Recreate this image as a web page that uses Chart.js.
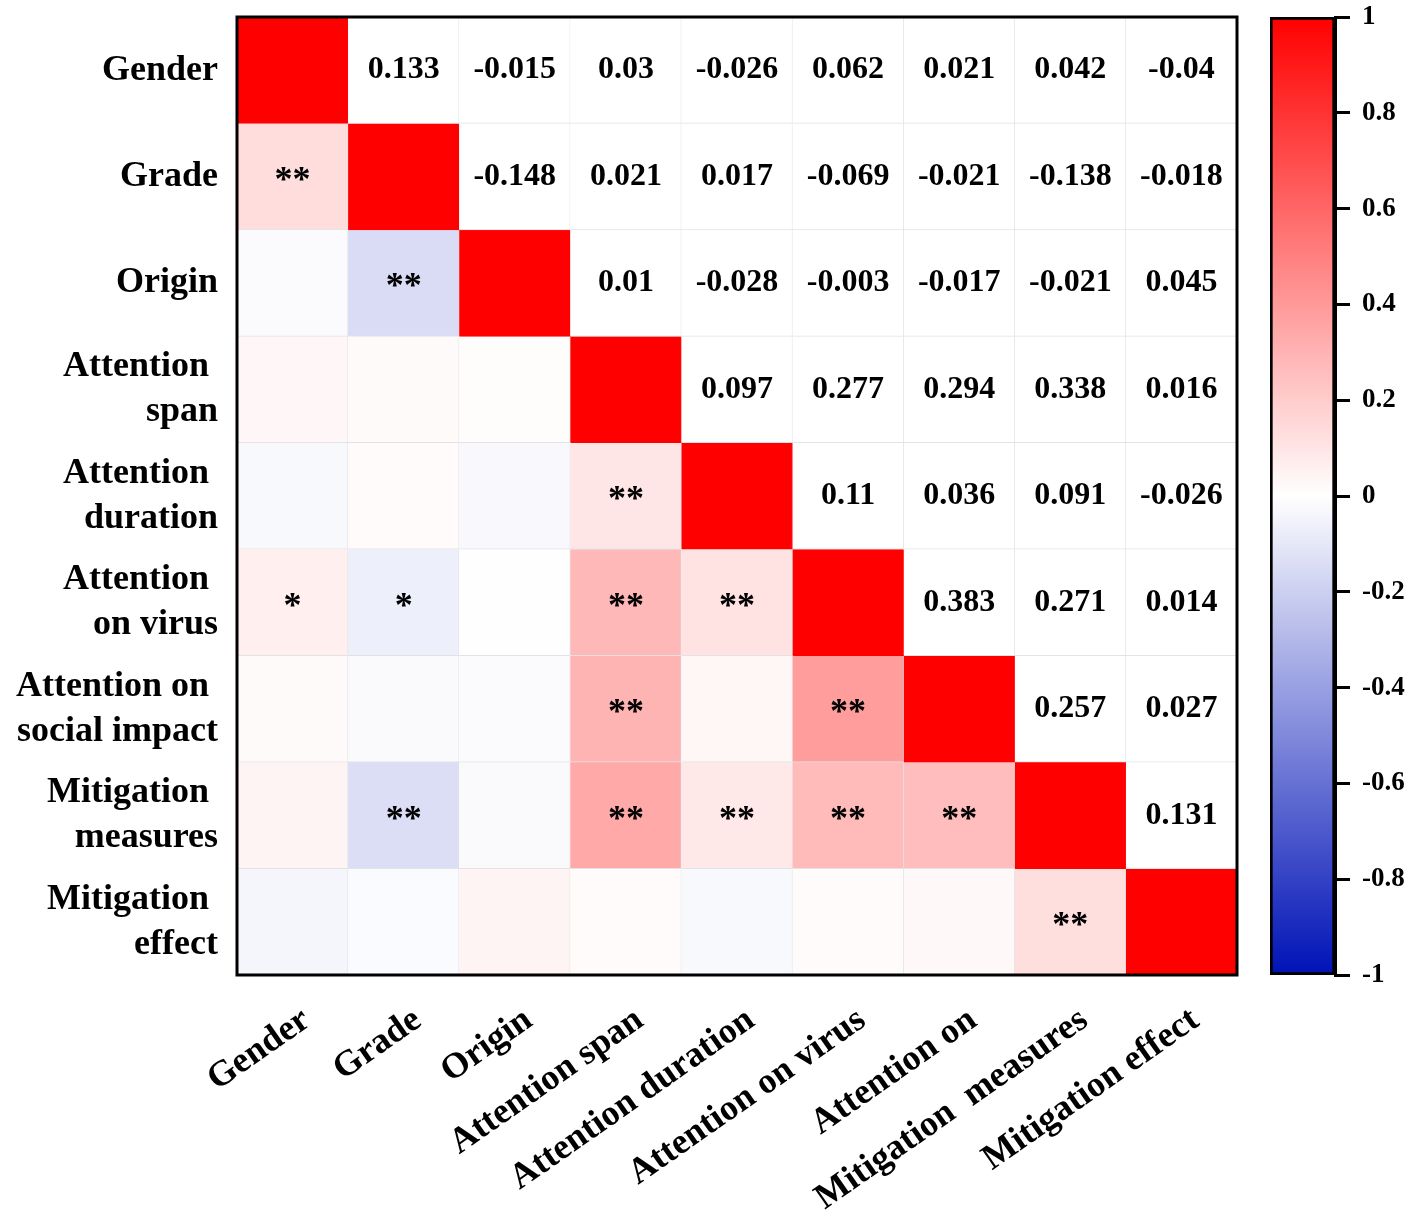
<!DOCTYPE html>
<html>
<head>
<meta charset="utf-8">
<script src="https://cdn.jsdelivr.net/npm/chart.js@4"></script>
<style>
  body { margin: 0; background: #fff; }
  #wrap { position: relative; width: 1418px; height: 1223px; }
  #heat { position: absolute; left: 0; top: 0; }
  #bar { position: absolute; left: 1250px; top: 0; }
</style>
</head>
<body>
<div id="wrap">
  <canvas id="heat" width="1250" height="1223"></canvas>
  <canvas id="bar" width="168" height="1223"></canvas>
</div>
<script>
// Row / column labels
const rowLabels = ["Gender", "Grade", "Origin", ["Attention ", "span"], ["Attention ", "duration"],
  ["Attention ", "on virus"], ["Attention on ", "social impact"], ["Mitigation ", "measures"], ["Mitigation ", "effect"]];
const colLabels = ["Gender", "Grade", "Origin", "Attention span", "Attention duration",
  "Attention on virus", "Attention on", "Mitigation  measures", "Mitigation effect"];

// Upper triangle correlations, each row against the variables after it
const rGender = [0.133, -0.015, 0.03, -0.026, 0.062, 0.021, 0.042, -0.04];
const rGrade = [-0.148, 0.021, 0.017, -0.069, -0.021, -0.138, -0.018];
const rOrigin = [0.01, -0.028, -0.003, -0.017, -0.021, 0.045];
const rSpan = [0.097, 0.277, 0.294, 0.338, 0.016];
const rDuration = [0.11, 0.036, 0.091, -0.026];
const rVirus = [0.383, 0.271, 0.014];
const rSocial = [0.257, 0.027];
const rMeasures = [0.131];

// Significance marks, same layout (shown in lower triangle)
const sGender = ["**", "", "", "", "*", "", "", ""];
const sGrade = ["**", "", "", "*", "", "**", ""];
const sOrigin = ["", "", "", "", "", ""];
const sSpan = ["**", "**", "**", "**", ""];
const sDuration = ["**", "", "**", ""];
const sVirus = ["**", "**", ""];
const sSocial = ["**", ""];
const sMeasures = ["**"];

// Colour bar ticks
const cbTicks = [1, 0.8, 0.6, 0.4, 0.2, 0, -0.2, -0.4, -0.6, -0.8, -1];

const upper = [rGender, rGrade, rOrigin, rSpan, rDuration, rVirus, rSocial, rMeasures, []];
const sigs = [sGender, sGrade, sOrigin, sSpan, sDuration, sVirus, sSocial, sMeasures, []];
const n = rowLabels.length;

function corr(i, j) {
  if (i === j) return 1;
  return i < j ? upper[i][j - i - 1] : upper[j][i - j - 1];
}
function sig(i, j) {
  return i < j ? sigs[i][j - i - 1] : sigs[j][i - j - 1];
}
function corrColor(v) {
  if (v >= 0) {
    var c = Math.round(255 * (1 - v));
    return "rgb(255," + c + "," + c + ")";
  }
  var t = -v;
  return "rgb(" + Math.round(255 * (1 - t)) + "," + Math.round(255 * (1 - t) + 18 * t) + "," + Math.round(255 * (1 - t) + 182 * t) + ")";
}

// one stacked dataset per row, upper triangle left white
var datasets = rowLabels.map(function (lab, i) {
  return {
    label: String(lab),
    data: colLabels.map(function () { return 1; }),
    backgroundColor: colLabels.map(function (c, j) { return j > i ? "#ffffff" : corrColor(corr(i, j)); }),
    borderColor: colLabels.map(function (c, j) { return j === i ? "#ff0000" : "#e3e3e6"; }),
    borderWidth: { top: 0, left: 0, right: 1, bottom: 1 },
    borderSkipped: false,
    barPercentage: 1,
    categoryPercentage: 1,
  };
});

const cellText = {
  id: "cellText",
  afterDatasetsDraw: function (chart) {
    var ctx = chart.ctx, xs = chart.scales.x, ys = chart.scales.y;
    ctx.save();
    ctx.fillStyle = "#000";
    ctx.textAlign = "center";
    ctx.textBaseline = "middle";
    for (var i = 0; i < n; i++) {
      for (var j = 0; j < n; j++) {
        if (i === j) continue;
        var x = xs.getPixelForValue(j), y = ys.getPixelForValue(i + 0.5);
        if (j > i) {
          ctx.font = "bold 32px 'Liberation Serif'";
          ctx.fillText(String(corr(i, j)), x, y);
        } else if (sig(i, j)) {
          ctx.font = "bold 36px 'Liberation Serif'";
          ctx.fillText(sig(i, j), x, y + 5);
        }
      }
    }
    var a = chart.chartArea;
    ctx.lineWidth = 3;
    ctx.strokeStyle = "#000";
    ctx.strokeRect(a.left, a.top, a.right - a.left, a.bottom - a.top);
    ctx.restore();
  },
};

Chart.defaults.font.family = "'Liberation Serif'";
Chart.defaults.color = "#000";

new Chart(document.getElementById("heat"), {
  type: "bar",
  data: { labels: colLabels, datasets: datasets },
  options: {
    responsive: false,
    animation: false,
    layout: { padding: { top: 17, right: 13 } },
    plugins: { legend: { display: false }, tooltip: { enabled: false } },
    scales: {
      x: {
        stacked: true,
        grid: { display: false, drawTicks: false },
        border: { display: false },
        ticks: { autoSkip: false, minRotation: 35, maxRotation: 35, padding: 24, labelOffset: 14, font: { size: 36, weight: "bold" } },
        afterFit: function (s) { s.height = 248; s.paddingLeft = 0; s.paddingRight = 0; },
      },
      y: {
        stacked: true,
        reverse: true,
        min: 0,
        max: n,
        grid: { display: false, drawTicks: false },
        border: { display: false },
        afterBuildTicks: function (s) { s.ticks = rowLabels.map(function (l, i) { return { value: i + 0.5 }; }); },
        ticks: {
          padding: 19,
          font: { size: 36, weight: "bold", lineHeight: 1.25 },
          callback: function (v) { return rowLabels[Math.floor(v)]; },
        },
        afterFit: function (s) { s.width = 237; s.paddingTop = 0; s.paddingBottom = 0; },
      },
    },
  },
  plugins: [cellText],
});

// Colour bar
new Chart(document.getElementById("bar"), {
  type: "bar",
  data: {
    labels: ["r"],
    datasets: [{
      data: [[cbTicks[cbTicks.length - 1], cbTicks[0]]],
      backgroundColor: function (c) {
        var ch = c.chart;
        if (!ch.chartArea) return null;
        var ys = ch.scales.y;
        var g = ch.ctx.createLinearGradient(0, ys.getPixelForValue(-1), 0, ys.getPixelForValue(1));
        for (var k = 0; k <= 20; k++) {
          var v = -1 + k * 0.1;
          g.addColorStop(k / 20, corrColor(Math.max(-1, Math.min(1, v))));
        }
        return g;
      },
      borderColor: "#000",
      borderWidth: 3,
      borderSkipped: false,
      barPercentage: 1,
      categoryPercentage: 1,
    }],
  },
  options: {
    responsive: false,
    animation: false,
    layout: { padding: { top: 17, left: 20, bottom: 248 } },
    plugins: { legend: { display: false }, tooltip: { enabled: false } },
    scales: {
      x: { display: false },
      y: {
        position: "right",
        min: -1,
        max: 1,
        afterBuildTicks: function (s) { s.ticks = cbTicks.map(function (v) { return { value: v }; }); },
        grid: { drawOnChartArea: false, drawTicks: true, tickLength: 15, lineWidth: 3, color: "#000" },
        border: { display: true, width: 3, color: "#000" },
        ticks: {
          padding: 12,
          font: { size: 27, weight: "bold" },
          callback: function (v) { return String(Math.round(v * 10) / 10); },
        },
        afterFit: function (s) { s.width = 83; s.paddingTop = 0; s.paddingBottom = 0; },
      },
    },
  },
});
</script>
</body>
</html>
